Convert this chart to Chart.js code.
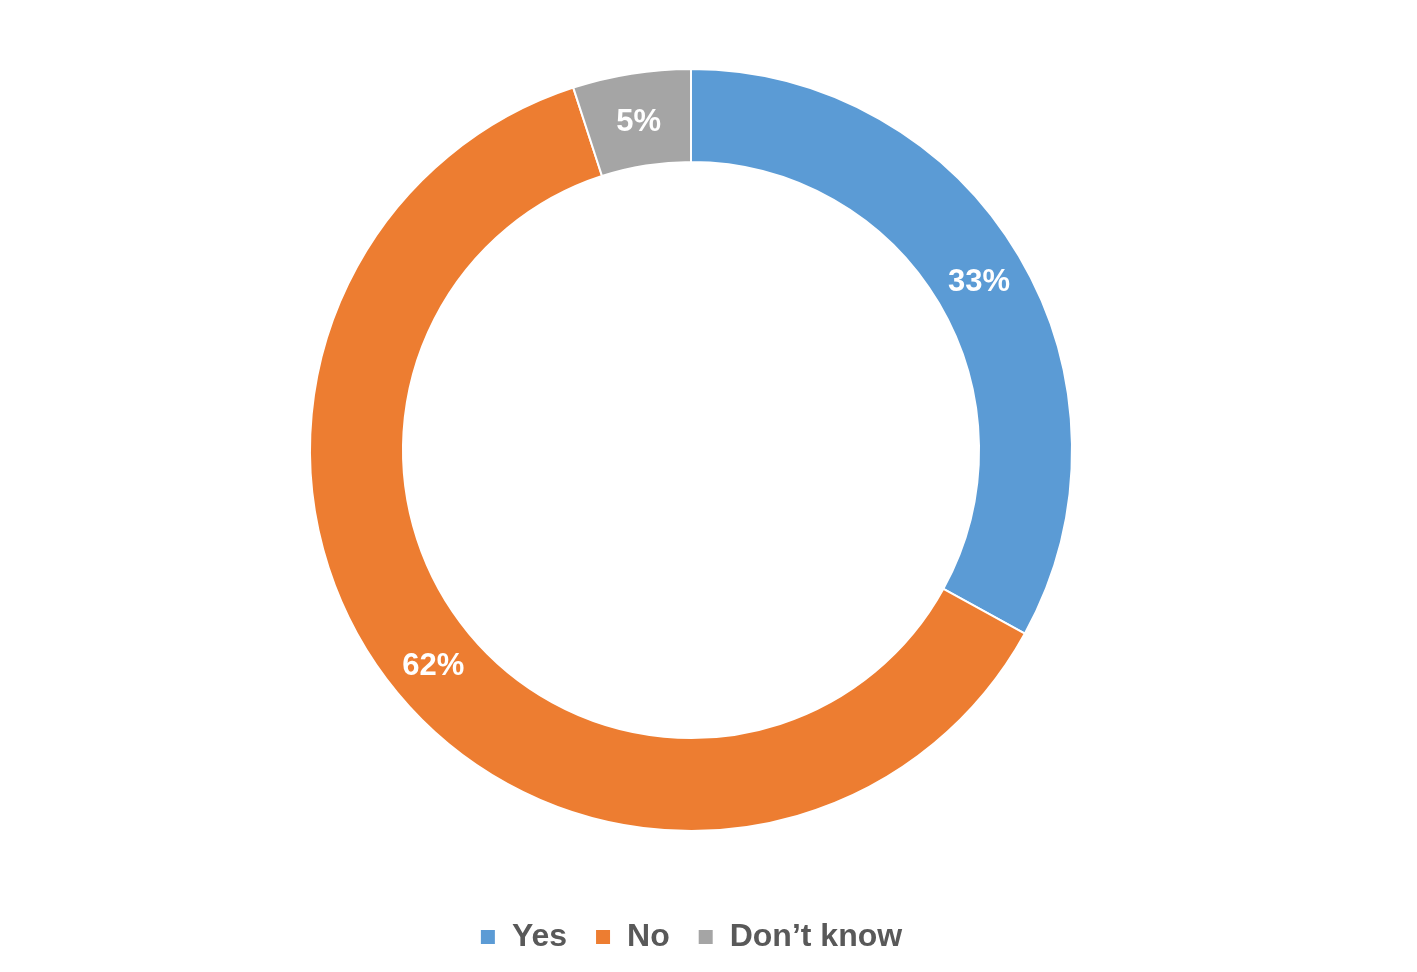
<!DOCTYPE html>
<html>
<head>
<meta charset="utf-8">
<script src="https://cdn.jsdelivr.net/npm/chart.js@4"></script>
<style>
html,body{margin:0;padding:0;background:#fff;}
#wrap{width:1417px;height:972px;}
</style>
</head>
<body>
<div id="wrap"><canvas id="c" width="1417" height="972"></canvas></div>
<script>
const categories = ['Yes', 'No', 'Don\u2019t know'];
const values = [33, 62, 5];
const colors = ['#5B9BD5', '#ED7D31', '#A5A5A5'];

const sliceLabels = {
  id: 'sliceLabels',
  afterDatasetsDraw(chart) {
    const ctx = chart.ctx;
    const meta = chart.getDatasetMeta(0);
    ctx.save();
    ctx.fillStyle = '#FFFFFF';
    ctx.font = 'bold 31px "Liberation Sans", Arial, sans-serif';
    ctx.textAlign = 'center';
    ctx.textBaseline = 'middle';
    meta.data.forEach((arc, i) => {
      const p = arc.getCenterPoint();
      ctx.fillText(values[i] + '%', p.x, p.y + 3);
    });
    ctx.restore();
  }
};

new Chart(document.getElementById('c'), {
  type: 'doughnut',
  data: {
    labels: categories,
    datasets: [{
      data: values,
      backgroundColor: colors,
      borderColor: '#FFFFFF',
      borderWidth: 2,
      radius: 381,
      cutout: '75.6%'
    }]
  },
  options: {
    responsive: false,
    animation: false,
    layout: { padding: { top: 7, bottom: 9, left: 0, right: 35 } },
    plugins: {
      tooltip: { enabled: false },
      legend: {
        position: 'bottom',
        labels: {
          color: '#595959',
          font: { family: '"Liberation Sans", Arial, sans-serif', size: 32, weight: 'bold' },
          boxWidth: 16,
          boxHeight: 16,
          padding: 28
        }
      }
    }
  },
  plugins: [sliceLabels]
});
</script>
</body>
</html>
